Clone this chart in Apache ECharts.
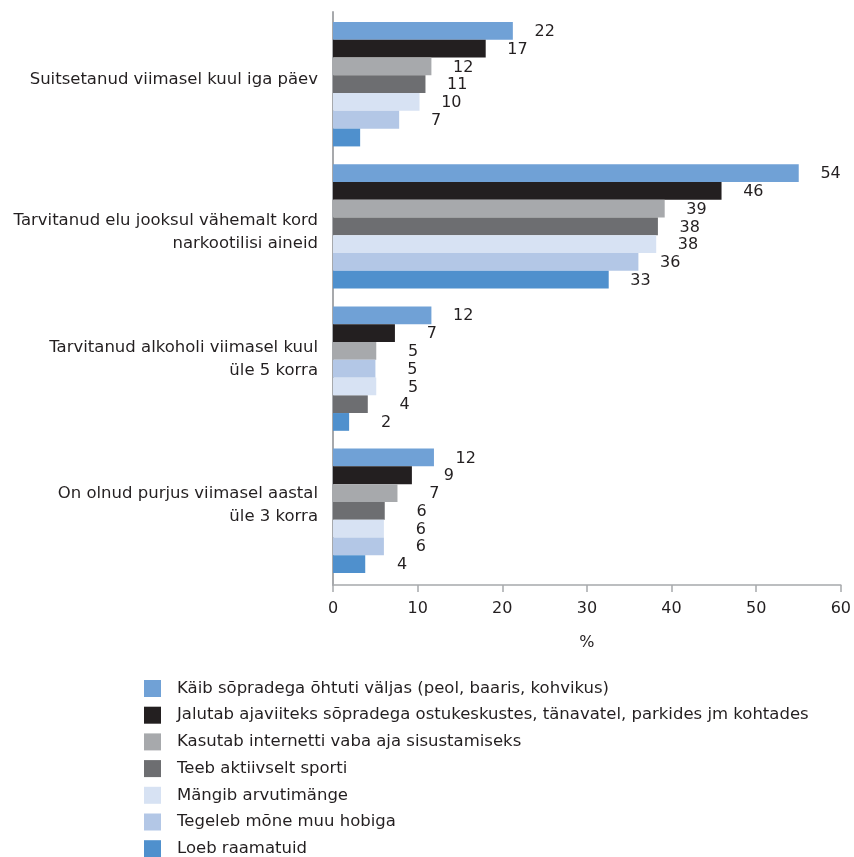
<!DOCTYPE html>
<html>
<head>
<meta charset="utf-8">
<script src="https://cdn.jsdelivr.net/npm/echarts@6/dist/echarts.min.js"></script>
<style>
  html, body { margin: 0; padding: 0; background: #ffffff; }
  #chart { width: 854px; height: 857px; }
</style>
</head>
<body>
<div id="chart"></div>
<script>
// ---------- DATA ----------
const groupLabels = [
  "Suitsetanud viimasel kuul iga päev",
  "Tarvitanud elu jooksul vähemalt kord\nnarkootilisi aineid",
  "Tarvitanud alkoholi viimasel kuul\nüle 5 korra",
  "On olnud purjus viimasel aastal\nüle 3 korra"
];
const seriesNames = [
  "Käib sõpradega õhtuti väljas (peol, baaris, kohvikus)",
  "Jalutab ajaviiteks sõpradega ostukeskustes, tänavatel, parkides jm kohtades",
  "Kasutab internetti vaba aja sisustamiseks",
  "Teeb aktiivselt sporti",
  "Mängib arvutimänge",
  "Tegeleb mõne muu hobiga",
  "Loeb raamatuid"
];
// bar lengths (%), per group, as drawn
const kaibValues     = [21.2, 54.9, 11.6, 11.9];
const jalutabValues  = [18.0, 45.8, 7.3, 9.3];
const kasutabValues  = [11.6, 39.1, 5.1, 7.6];
const teebValues     = [10.9, 38.3, 4.1, 6.1];
const mangibValues   = [10.2, 38.1, 5.1, 6.0];
const tegelebValues  = [7.8, 36.0, 5.0, 6.0];
const loebValues     = [3.2, 32.5, 1.9, 3.8];
// printed value labels
const kaibLabels     = [22, 54, 12, 12];
const jalutabLabels  = [17, 46, 7, 9];
const kasutabLabels  = [12, 39, 5, 7];
const teebLabels     = [11, 38, 4, 6];
const mangibLabels   = [10, 38, 5, 6];
const tegelebLabels  = [7, 36, 5, 6];
const loebLabels     = [null, 33, 2, 4];
// bar order within each group (series index, top to bottom)
const groupOrder = [
  [0, 1, 2, 3, 4, 5, 6],
  [0, 1, 2, 3, 4, 5, 6],
  [0, 1, 2, 5, 4, 3, 6],
  [0, 1, 2, 3, 4, 5, 6]
];
const xTicks = { min: 0, max: 60, interval: 10 };

// ---------- BUILD ----------
const barValues = [kaibValues, jalutabValues, kasutabValues, teebValues, mangibValues, tegelebValues, loebValues];
const barLabels = [kaibLabels, jalutabLabels, kasutabLabels, teebLabels, mangibLabels, tegelebLabels, loebLabels];
const colors = ['#70a1d6', '#231f20', '#a7a9ac', '#6d6e71', '#d7e2f3', '#b3c7e6', '#4f90cd'];
const textColor = '#231f20';
const axisColor = '#a7a9ac';
const font = 'DejaVu Sans';

const perGroup = 8;               // 7 bars + 1 spacer slot
const nSlots = groupLabels.length * perGroup - 1;
const slotNames = Array.from({ length: nSlots }, (_, k) => 's' + k);

const barSeries = seriesNames.map((name, i) => {
  const data = new Array(nSlots).fill('-');
  groupOrder.forEach((order, g) => {
    const pos = order.indexOf(i);
    data[g * perGroup + pos] = barValues[i][g];
  });
  return {
    name: name,
    type: 'bar',
    xAxisIndex: 1,
    yAxisIndex: 1,
    barGap: '-100%',
    barCategoryGap: 0,
    itemStyle: { color: colors[i] },
    label: {
      show: true,
      position: 'right',
      distance: 42,
      align: 'right',
      fontFamily: font,
      fontSize: 16,
      color: textColor,
      offset: [0, 1],
      formatter: (p) => {
        const g = Math.floor(p.dataIndex / perGroup);
        const v = barLabels[i][g];
        return v == null ? '' : String(v);
      }
    },
    data: data
  };
});

// vertical nudges for the category labels (style only): spacer line above / below
const labelSpacer = [
  { below: 7 },
  { above: 10 },
  { below: 22 },
  { below: 17 }
];
const richStyles = { t: { fontFamily: font, fontSize: 16.5, lineHeight: 23, color: textColor, align: 'right' } };
labelSpacer.forEach((s, g) => {
  richStyles['sp' + g] = { fontSize: 2, lineHeight: (s.above || s.below), align: 'right' };
});

const option = {
  backgroundColor: '#ffffff',
  animation: false,
  textStyle: { fontFamily: font },
  grid: [
    { left: 333, right: 12, top: 12, bottom: 272 },
    { left: 333, right: 12, top: 22, bottom: 284 }
  ],
  xAxis: [
    {
      gridIndex: 0, type: 'value',
      min: xTicks.min, max: xTicks.max, interval: xTicks.interval,
      name: '%', nameLocation: 'middle', nameGap: 50,
      nameTextStyle: { fontFamily: font, fontSize: 16, color: textColor },
      axisLine: { show: true, lineStyle: { color: axisColor, width: 1.5 } },
      axisTick: { show: true, length: 7, lineStyle: { color: axisColor, width: 1.5 } },
      axisLabel: { fontFamily: font, fontSize: 16, color: textColor, margin: 16 },
      splitLine: { show: false }
    },
    {
      gridIndex: 1, type: 'value',
      min: xTicks.min, max: xTicks.max, interval: xTicks.interval,
      show: false
    }
  ],
  yAxis: [
    {
      gridIndex: 0, type: 'category', inverse: true,
      data: groupLabels,
      axisLine: { show: true, lineStyle: { color: axisColor, width: 2 } },
      axisTick: { show: false },
      axisLabel: {
        fontFamily: font, fontSize: 16.5, color: textColor, margin: 15,
        lineHeight: 23, align: 'right',
        formatter: (value, idx) => {
          const lines = value.split('\n').map(l => '{t|' + l + '}');
          const s = labelSpacer[idx];
          if (s.above) lines.unshift('{sp' + idx + '|\u00a0}');
          if (s.below) lines.push('{sp' + idx + '|\u00a0}');
          return lines.join('\n');
        },
        rich: richStyles
      },
      splitLine: { show: false }
    },
    {
      gridIndex: 1, type: 'category', inverse: true,
      data: slotNames, show: false
    }
  ],
  legend: {
    data: seriesNames,
    orient: 'vertical',
    left: 144,
    top: 680,
    height: 200,
    padding: 0,
    itemWidth: 17,
    itemHeight: 17,
    itemGap: 9.7,
    icon: 'rect',
    selectedMode: false,
    textStyle: { fontFamily: font, fontSize: 16.5, color: textColor, lineHeight: 17, padding: [0, 0, 0, 11] }
  },
  series: [
    { type: 'bar', xAxisIndex: 0, yAxisIndex: 0, data: [], silent: true }
  ].concat(barSeries)
};

const chart = echarts.init(document.getElementById('chart'), null, { renderer: 'canvas' });
chart.setOption(option);
</script>
</body>
</html>
